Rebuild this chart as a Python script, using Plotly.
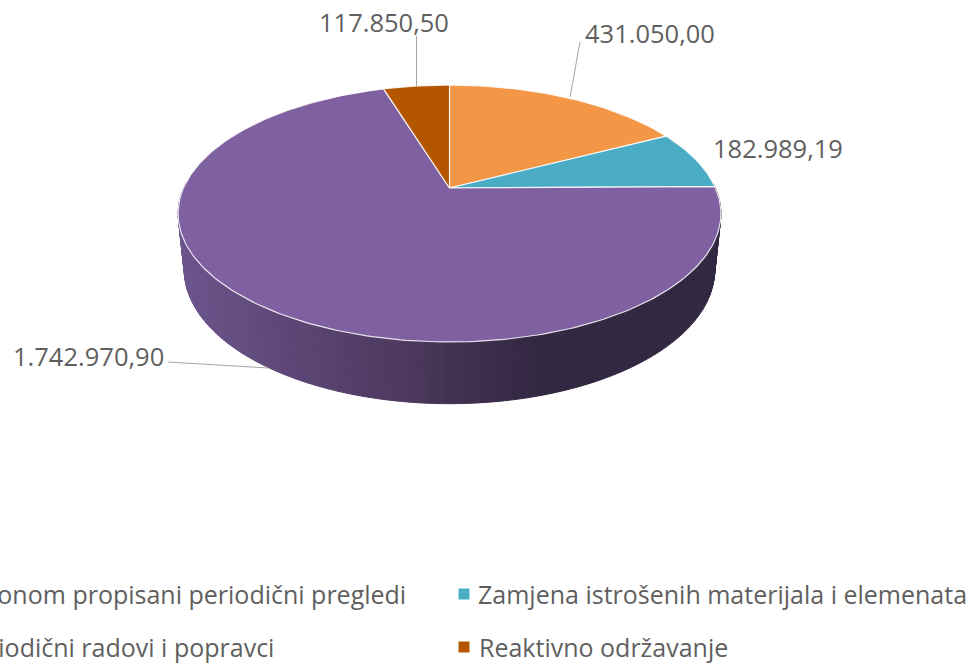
import math
import plotly.graph_objects as go

# Vrijednosti s grafikona
categories = [
    "Zakonom propisani periodični pregledi",
    "Zamjena istrošenih materijala i elemenata",
    "Periodični radovi i popravci",
    "Reaktivno održavanje",
]
values = [431050.00, 182989.19, 1742970.90, 117850.50]
colors = ["#F39646", "#4BACC6", "#7F60A0", "#B45500"]

# Gradijent bočne strane (x piksel, boja)
side_stops = [(180, (108, 85, 139)), (270, (96, 73, 122)), (400, (78, 57, 96)),
              (500, (58, 44, 73)), (545, (51, 40, 66)), (725, (51, 40, 66))]

WIDTH, HEIGHT = 973, 664
FONT = "Open Sans"
TEXT_COLOR = "#5f5f5f"
LABEL_SIZE = 25.5
LEGEND_SIZE = 25


def project(theta, top=True):
    """Perspektivna projekcija tocke na rubu kruga (theta u stupnjevima, 0 = gore, u smjeru kazaljke)."""
    u, v = math.sin(math.radians(theta)), math.cos(math.radians(theta))
    if top:
        a, b, y0 = 266.0, 123.4, 188.0
    else:
        a, b, y0 = 260.0, 128.8, 243.0
    k = 0.1984
    d = 1 + k * v
    return 449.5 + a * u / d, y0 - b * v / d


def side_color(x):
    for (x0, c0), (x1, c1) in zip(side_stops, side_stops[1:]):
        if x <= x1:
            t = max(0, (x - x0) / (x1 - x0))
            return "rgb(%d,%d,%d)" % tuple(c0[i] + (c1[i] - c0[i]) * t for i in range(3))
    return "rgb(51,40,66)"


def fmt(v):
    return f"{v:,.2f}".replace(",", "#").replace(".", ",").replace("#", ".")


total = sum(values)
angles = [0]
for v in values:
    angles.append(angles[-1] + v / total * 360)

fig = go.Figure()

# Bocna strana - uske trake od desnog do lijevog ruba
side_from, side_to, step = 88, 272, 1.5
theta = side_from
while theta < side_to:
    t2 = theta + step
    p1, p2 = project(theta), project(t2)
    p3, p4 = project(t2, False), project(theta, False)
    col = side_color((p1[0] + p2[0]) / 2)
    fig.add_trace(go.Scatter(
        x=[p1[0], p2[0], p3[0], p4[0], p1[0]],
        y=[p1[1], p2[1], p3[1], p4[1], p1[1]],
        mode="lines", fill="toself", fillcolor=col,
        line=dict(color=col, width=1), hoverinfo="skip", showlegend=False,
    ))
    theta = t2

# Gornja ploha
for i, name in enumerate(categories):
    start, end = angles[i], angles[i + 1]
    n = max(2, int(end - start))
    pts = [project(start + (end - start) * j / n) for j in range(n + 1)]
    xs = [449.5] + [p[0] for p in pts] + [449.5]
    ys = [188.0] + [p[1] for p in pts] + [188.0]
    fig.add_trace(go.Scatter(
        x=xs, y=ys, mode="lines", fill="toself", fillcolor=colors[i],
        line=dict(color="rgba(255,255,255,0.85)", width=1.2),
        name=name, text=fmt(values[i]), hoverinfo="name+text", showlegend=False,
    ))

# Oznake i linije do kriski
label_pos = [(649.5, 33), (778, 148), (88.5, 356), (383.5, 22)]
leader_ends = [(580, 42), None, (168, 362), (416.5, 36)]
leader_starts = [(570, 97), None, (268, 368), (416.5, 86)]
for i, v in enumerate(values):
    fig.add_annotation(x=label_pos[i][0], y=label_pos[i][1], text=fmt(v), showarrow=False,
                       xanchor="center", yanchor="middle",
                       font=dict(family=FONT, size=LABEL_SIZE, color=TEXT_COLOR))
    if leader_ends[i]:
        fig.add_trace(go.Scatter(
            x=[leader_ends[i][0], leader_starts[i][0]],
            y=[leader_ends[i][1], leader_starts[i][1]],
            mode="lines", line=dict(color="#a6a6a6", width=1),
            hoverinfo="skip", showlegend=False,
        ))

# Legenda (lijevi stupac je odrezan rubom slike)
legend_right = [(408, 594), (969, 594), (276, 647), (730, 647)]
for i, name in enumerate(categories):
    fig.add_annotation(x=legend_right[i][0], y=legend_right[i][1], text=name, showarrow=False,
                       xanchor="right", yanchor="middle",
                       font=dict(family=FONT, size=LEGEND_SIZE, color=TEXT_COLOR))
fig.add_trace(go.Scatter(
    x=[464, 464], y=[594, 647], mode="markers",
    marker=dict(symbol="square", size=11, color=[colors[1], colors[3]]),
    hoverinfo="skip", showlegend=False,
))

fig.update_layout(
    width=WIDTH, height=HEIGHT,
    margin=dict(l=0, r=0, t=0, b=0),
    paper_bgcolor="white", plot_bgcolor="white",
    showlegend=False,
    xaxis=dict(range=[0, WIDTH], visible=False, fixedrange=True),
    yaxis=dict(range=[HEIGHT, 0], visible=False, fixedrange=True),
)
fig.write_html("out.html", config=dict(displayModeBar=False),
               post_script="document.body.style.margin='0';document.documentElement.style.overflow='hidden';")
